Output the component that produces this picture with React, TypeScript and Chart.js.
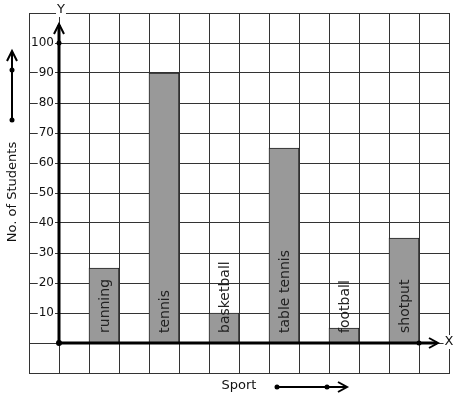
import React, { useEffect, useRef } from "react";
import { Chart, registerables } from "chart.js";

Chart.register(...registerables);

const sports = ["running", "tennis", "basketball", "table tennis", "football", "shotput"];
const students = [25, 90, 10, 65, 5, 35];
const yTickLabels = [10, 20, 30, 40, 50, 60, 70, 80, 90, 100];
const xTitle = "Sport";
const yTitle = "No. of Students";

const FONT = '"DejaVu Sans", sans-serif';

function arrowHead(ctx: CanvasRenderingContext2D, tx: number, ty: number, dir: "up" | "right") {
  ctx.beginPath();
  if (dir === "up") {
    ctx.moveTo(tx - 5, ty + 10);
    ctx.lineTo(tx, ty);
    ctx.lineTo(tx + 5, ty + 10);
  } else {
    ctx.moveTo(tx - 9, ty - 5);
    ctx.lineTo(tx, ty);
    ctx.lineTo(tx - 9, ty + 5);
  }
  ctx.stroke();
}

function dot(ctx: CanvasRenderingContext2D, x: number, y: number, r: number) {
  ctx.beginPath();
  ctx.arc(x, y, r, 0, Math.PI * 2);
  ctx.fill();
}

function labelWithBg(ctx: CanvasRenderingContext2D, text: string, x: number, y: number, align: CanvasTextAlign) {
  const w = ctx.measureText(text).width;
  let left = x;
  if (align === "right") left = x - w;
  if (align === "center") left = x - w / 2;
  ctx.fillStyle = "#fff";
  ctx.fillRect(left - 1, y - 7, w + 2, 14);
  ctx.fillStyle = "#111";
  ctx.textAlign = align;
  ctx.textBaseline = "middle";
  ctx.fillText(text, x, y);
}

const decor = {
  id: "decor",
  afterDatasetsDraw(chart: any) {
    const ctx: CanvasRenderingContext2D = chart.ctx;
    const xs = chart.scales.x;
    const ys = chart.scales.y;
    const ox = xs.getPixelForValue(0);
    const oy = ys.getPixelForValue(0);
    const ca = chart.chartArea;
    ctx.save();

    // bar labels
    const meta = chart.getDatasetMeta(0);
    ctx.font = `14px ${FONT}`;
    ctx.fillStyle = "#222";
    ctx.textAlign = "left";
    ctx.textBaseline = "middle";
    meta.data.forEach((bar: any, i: number) => {
      ctx.save();
      ctx.translate(bar.x + 1, oy - 10);
      ctx.rotate(-Math.PI / 2);
      ctx.fillText(sports[i], 0, 0);
      ctx.restore();
    });

    // y tick labels
    ctx.font = `12px ${FONT}`;
    yTickLabels.forEach((v) => {
      labelWithBg(ctx, String(v), ox - 5, ys.getPixelForValue(v), "right");
    });

    // axes
    ctx.strokeStyle = "#000";
    ctx.fillStyle = "#000";
    ctx.lineWidth = 3;
    ctx.lineCap = "butt";
    const yTip = ca.top + 11;
    const xTip = ca.right - 11;
    ctx.beginPath();
    ctx.moveTo(ox, oy);
    ctx.lineTo(ox, yTip + 1);
    ctx.moveTo(ox, oy);
    ctx.lineTo(xTip - 1, oy);
    ctx.stroke();
    ctx.lineWidth = 2;
    arrowHead(ctx, ox, yTip, "up");
    arrowHead(ctx, xTip, oy, "right");
    dot(ctx, ox, ys.getPixelForValue(100), 2.5);
    dot(ctx, ox, oy, 3);
    dot(ctx, xs.getPixelForValue(12), oy, 2.5);

    // axis letters
    ctx.font = `13px ${FONT}`;
    labelWithBg(ctx, "Y", ox + 2, ca.top - 3, "center");
    labelWithBg(ctx, "X", ca.right, oy - 1, "center");

    // y title + arrow
    ctx.fillStyle = "#111";
    ctx.save();
    ctx.translate(13, 192);
    ctx.rotate(-Math.PI / 2);
    ctx.textAlign = "center";
    ctx.textBaseline = "middle";
    ctx.fillText(yTitle, 0, 0);
    ctx.restore();

    ctx.strokeStyle = "#000";
    ctx.fillStyle = "#000";
    ctx.lineWidth = 2;
    ctx.beginPath();
    ctx.moveTo(12, 120);
    ctx.lineTo(12, 52);
    ctx.stroke();
    arrowHead(ctx, 12, 51, "up");
    dot(ctx, 12, 70, 2.5);
    dot(ctx, 12, 120, 2.5);

    // x title + arrow
    ctx.fillStyle = "#111";
    ctx.textAlign = "center";
    ctx.textBaseline = "middle";
    ctx.fillText(xTitle, 239, 386);
    ctx.fillStyle = "#000";
    ctx.beginPath();
    ctx.moveTo(277, 387);
    ctx.lineTo(346, 387);
    ctx.stroke();
    arrowHead(ctx, 347, 387, "right");
    dot(ctx, 277, 387, 2.5);
    dot(ctx, 327, 387, 2.5);

    ctx.restore();
  },
};

export default function App() {
  const ref = useRef<HTMLCanvasElement | null>(null);
  useEffect(() => {
    if (!ref.current) return;
    const chart = new Chart(ref.current, {
      type: "bar",
      data: {
        datasets: [
          {
            data: students.map((v, i) => ({ x: 1.5 + 2 * i, y: v })),
            backgroundColor: "#999999",
            borderColor: "#222",
            borderWidth: 1,
            barThickness: 30,
          } as any,
        ],
      },
      options: {
        responsive: false,
        devicePixelRatio: 1,
        animation: false,
        layout: { padding: { left: 29, right: 8, top: 13, bottom: 26 } },
        plugins: { legend: { display: false }, tooltip: { enabled: false } },
        scales: {
          x: {
            type: "linear",
            min: -1,
            max: 13,
            offset: false,
            ticks: { stepSize: 1, display: false },
            grid: { color: "#333", lineWidth: 1, drawTicks: false, offset: false },
            border: { display: true, color: "#333", width: 1 },
          },
          y: {
            type: "linear",
            min: -10,
            max: 110,
            ticks: { stepSize: 10, display: false },
            grid: { color: "#333", lineWidth: 1, drawTicks: false },
            border: { display: true, color: "#333", width: 1 },
          },
        },
      },
      plugins: [decor],
    });
    return () => chart.destroy();
  }, []);
  return (
    <div style={{ position: "absolute", left: 0, top: 0, width: 457, height: 399, background: "#fff" }}>
      <canvas ref={ref} width={457} height={399} style={{ display: "block" }} />
    </div>
  );
}
